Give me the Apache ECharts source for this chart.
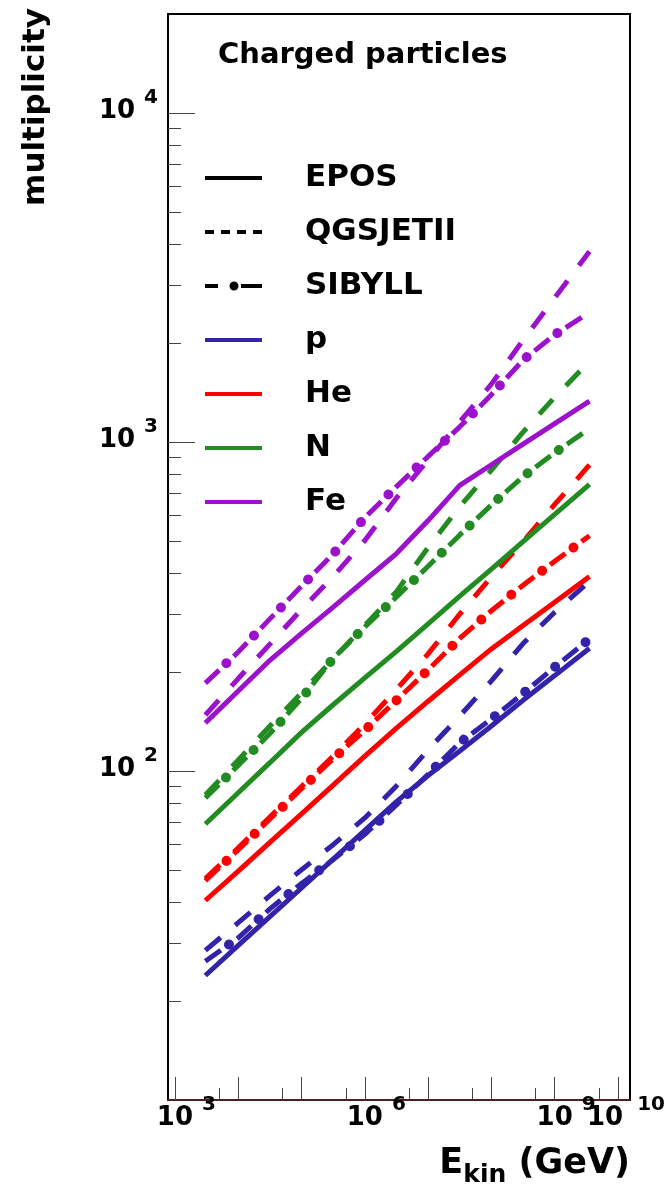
<!DOCTYPE html>
<html>
<head>
<meta charset="utf-8">
<script src="https://cdn.jsdelivr.net/npm/echarts@6/dist/echarts.min.js"></script>
<style>
  html, body { margin: 0; padding: 0; background: #ffffff; }
  #chart { width: 671px; height: 1190px; }
</style>
</head>
<body>
<div id="chart"></div>
<script>
// Primary kinetic energy grid, log10(E_kin / GeV)
const logEnergy = [3.48, 4.0, 4.5, 5.0, 5.5, 6.0, 6.5, 7.0, 7.5, 8.0, 8.5, 9.0, 9.55];

// Charged-particle multiplicity, per primary and interaction model
const pEPOS     = [23.9, 29.5, 36.1, 44.1, 54.0, 66.0, 80.7, 96.9, 115, 137, 164, 195, 236];
const pQGSJET   = [28.5, 34.6, 41.8, 50.1, 59.7, 72.0, 90.1, 116, 147, 188, 244, 304, 377];
const pSIBYLL   = [26.4, 31.1, 38.1, 45.5, 53.8, 64.2, 78.9, 97.7, 122, 144, 172, 207, 252];
const heEPOS    = [40.4, 49.6, 60.7, 74.1, 90.6, 111, 135, 163, 196, 235, 277, 326, 390];
const heQGSJET  = [47.1, 58.4, 72.5, 89.7, 111, 139, 177, 227, 300, 389, 498, 646, 852];
const heSIBYLL  = [46.4, 57.6, 71.5, 88.3, 109, 133, 164, 203, 253, 307, 367, 434, 519];
const nEPOS     = [69.0, 85.9, 106, 131, 159, 192, 231, 280, 340, 411, 498, 603, 743];
const nQGSJET   = [84.6, 108, 137, 173, 219, 277, 351, 478, 637, 822, 1072, 1368, 1759];
const nSIBYLL   = [82.8, 104, 130, 166, 220, 274, 338, 419, 522, 644, 785, 927, 1099];
const feEPOS    = [140, 175, 217, 262, 315, 380, 458, 577, 738, 853, 986, 1138, 1331];
const feQGSJET  = [148, 191, 243, 310, 390, 502, 676, 882, 1151, 1500, 2037, 2740, 3794];
const feSIBYLL  = [185, 230, 290, 365, 457, 589, 732, 904, 1112, 1393, 1775, 2118, 2478];

// Axis decades (exponents of ten)
const xDecades = [3, 4, 5, 6, 7, 8, 9, 10];
const xLabelDecades = [3, 6, 9];
const xLastLabel = [10];
const xHalfSteps = [3, 4, 5, 6, 7, 8, 9];      // minor tick at 5 x 10^n
const yDecades = [2, 3, 4];
const ySubDecades = [1, 2, 3];                 // minor ticks at k x 10^n, k = 2..9
const xRange = [2.89, 10.19];
const yRange = [1, Math.log10(20000)];

const FONT = '"DejaVu Sans", "Liberation Sans", sans-serif';

const primaries = [
  { name: 'p',  color: '#3322aa', epos: pEPOS,  qgs: pQGSJET,  sib: pSIBYLL },
  { name: 'He', color: '#ff0000', epos: heEPOS, qgs: heQGSJET, sib: heSIBYLL },
  { name: 'N',  color: '#228b22', epos: nEPOS,  qgs: nQGSJET,  sib: nSIBYLL },
  { name: 'Fe', color: '#9b11cc', epos: feEPOS, qgs: feQGSJET, sib: feSIBYLL }
];

const toPoints = vals => logEnergy.map((e, i) => [e, Math.log10(vals[i])]);

const LINE_W = 5;
const series = [];
function addLine(name, color, vals, type) {
  series.push({
    name: name,
    type: 'line',
    data: toPoints(vals),
    showSymbol: false,
    symbol: 'none',
    silent: true,
    z: 3,
    lineStyle: { color: color, width: LINE_W, type: type, cap: 'butt' }
  });
}

primaries.forEach(pr => {
  addLine(pr.name + ' EPOS', pr.color, pr.epos, 'solid');
  addLine(pr.name + ' QGSJETII', pr.color, pr.qgs, [20, 19]);
  addLine(pr.name + ' SIBYLL', pr.color, pr.sib, [19, 20]);
  // round dots sitting in the gaps of the SIBYLL dashes
  series.push({
    name: pr.name + ' SIBYLL dots',
    type: 'line',
    data: toPoints(pr.sib),
    showSymbol: false,
    symbol: 'none',
    silent: true,
    z: 3,
    lineStyle: { color: pr.color, width: 10, type: [0.01, 38.99], dashOffset: 10, cap: 'round' }
  });
});

// Legend keys (no data of their own)
const legendKeys = [
  { name: 'EPOS',     color: '#000000', icon: 'path://M0,0h57v4h-57z' },
  { name: 'QGSJETII', color: '#000000', icon: 'path://M0,0h9v4h-9z M16,0h9v4h-9z M32,0h9v4h-9z M48,0h9v4h-9z' },
  { name: 'SIBYLL',   color: '#000000', icon: 'path://M0,3h13v4h-13z M36,3h21v4h-21z M24.5,5a4.5,4.5 0 1 0 9,0a4.5,4.5 0 1 0 -9,0z' },
  { name: 'p',  color: primaries[0].color, icon: 'path://M0,0h57v4h-57z' },
  { name: 'He', color: primaries[1].color, icon: 'path://M0,0h57v4h-57z' },
  { name: 'N',  color: primaries[2].color, icon: 'path://M0,0h57v4h-57z' },
  { name: 'Fe', color: primaries[3].color, icon: 'path://M0,0h57v4h-57z' }
];
legendKeys.forEach(k => {
  series.push({ name: k.name, type: 'line', data: [], color: k.color, silent: true });
});

const xMinor = xHalfSteps.map(n => Math.log10(5 * Math.pow(10, n)));
const yMinor = [];
ySubDecades.forEach(n => { for (let k = 2; k <= 9; k++) yMinor.push(Math.log10(k * Math.pow(10, n))); });

const baseTok = { fontFamily: FONT, fontWeight: 'bold', fontSize: 26, lineHeight: 30, color: '#000', padding: [0, 0, 4, 0], verticalAlign: 'bottom' };
const expTok = { fontFamily: FONT, fontWeight: 'bold', fontSize: 20, lineHeight: 22, color: '#000', padding: [0, 0, 20, 9], verticalAlign: 'bottom' };
const powRich = {
  b: baseTok,
  e: expTok,
  // invisible twin of the exponent, keeps the "10" centred on its tick
  p: Object.assign({}, expTok, { color: 'rgba(0,0,0,0)', padding: [0, 9, 20, 0] }),
  w: Object.assign({}, expTok, { padding: [0, 0, 20, 14] })
};

const tickStyle = { color: '#444', width: 1 };

const option = {
  animation: false,
  backgroundColor: '#ffffff',
  title: {
    text: 'Charged particles',
    left: 218, top: 41, padding: 0,
    textStyle: { fontFamily: FONT, fontWeight: 'bold', fontSize: 29, color: '#000' }
  },
  legend: {
    orient: 'vertical',
    left: 205, top: 162, padding: 0,
    itemGap: 22, itemWidth: 57, itemHeight: 10,
    selectedMode: false,
    symbolKeepAspect: true,
    textStyle: { fontFamily: FONT, fontWeight: 'bold', fontSize: 31, lineHeight: 32, color: '#000', padding: [0, 0, 0, 38] },
    data: legendKeys.map(k => ({ name: k.name, icon: k.icon }))
  },
  grid: {
    left: 168, right: 41, top: 14, bottom: 90,
    outerBoundsMode: 'none', containLabel: false,
    show: true, borderColor: '#000', borderWidth: 2, backgroundColor: 'rgba(0,0,0,0)'
  },
  xAxis: [
    {
      type: 'value', min: xRange[0], max: xRange[1], position: 'bottom',
      axisLine: { show: true, lineStyle: { color: '#4a2020', width: 2 } },
      axisTick: { show: true, inside: true, length: 23, lineStyle: tickStyle, customValues: xDecades },
      axisLabel: {
        show: true, margin: 5, customValues: xLabelDecades,
        hideOverlap: false,
        formatter: v => { const n = Math.round(v); return '{p|' + n + '}{b|10}{e|' + n + '}'; },
        rich: powRich
      },
      splitLine: { show: false }
    },
    {
      type: 'value', min: xRange[0], max: xRange[1], position: 'bottom',
      axisLine: { show: false },
      axisTick: { show: true, inside: true, length: 12, lineStyle: tickStyle, customValues: xMinor },
      axisLabel: {
        show: true, margin: 5, customValues: xLastLabel,
        hideOverlap: false,
        padding: [0, 0, 0, 16],
        formatter: v => '{b|10}{w|' + Math.round(v) + '}',
        rich: powRich
      },
      splitLine: { show: false }
    }
  ],
  yAxis: [
    {
      type: 'value', min: yRange[0], max: yRange[1], position: 'left',
      axisLine: { show: true, lineStyle: { color: '#000', width: 2 } },
      axisTick: { show: true, inside: true, length: 27, lineStyle: tickStyle, customValues: yDecades },
      axisLabel: {
        show: true, margin: 10, customValues: yDecades,
        formatter: v => '{b|10}{e|' + Math.round(v) + '}',
        rich: powRich
      },
      splitLine: { show: false }
    },
    {
      type: 'value', min: yRange[0], max: yRange[1], position: 'left',
      axisLine: { show: false },
      axisTick: { show: true, inside: true, length: 13, lineStyle: tickStyle, customValues: yMinor },
      axisLabel: { show: false },
      splitLine: { show: false }
    }
  ],
  graphic: [
    {
      type: 'text', x: 36, y: 8, rotation: Math.PI / 2,
      style: { text: 'multiplicity', font: 'bold 31px ' + FONT, fill: '#000', textAlign: 'right', textVerticalAlign: 'middle' }
    },
    {
      type: 'text', x: 630, y: 1188,
      style: {
        text: '{b|E}{s|kin}{b| (GeV)}',
        textAlign: 'right', textVerticalAlign: 'bottom',
        rich: {
          b: { fontFamily: FONT, fontWeight: 'bold', fontSize: 35, lineHeight: 38, color: '#000', padding: [0, 0, 7, 0], verticalAlign: 'bottom' },
          s: { fontFamily: FONT, fontWeight: 'bold', fontSize: 25, lineHeight: 26, color: '#000', verticalAlign: 'bottom' }
        }
      }
    }
  ],
  series: series
};

const chart = echarts.init(document.getElementById('chart'), null, { renderer: 'canvas' });
chart.setOption(option);
</script>
</body>
</html>
